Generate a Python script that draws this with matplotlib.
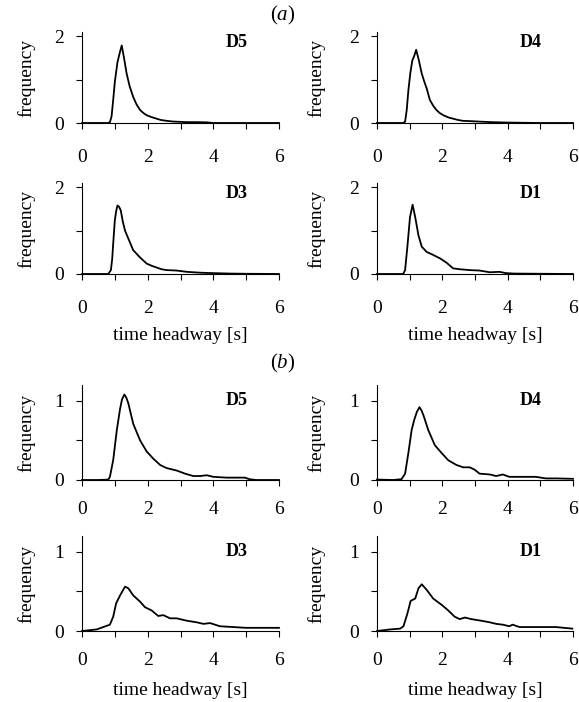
import matplotlib
matplotlib.use("Agg")
import matplotlib.pyplot as plt

plt.rcParams['font.family'] = ['Liberation Serif', 'DejaVu Serif']
plt.rcParams['mathtext.fontset'] = 'custom'
plt.rcParams['mathtext.it'] = 'Liberation Serif:italic'
plt.rcParams['mathtext.rm'] = 'Liberation Serif'

# ---- data ----
a_D5_x = [0, 0.5, 0.8, 0.85, 0.9, 0.95, 1.0, 1.08, 1.15, 1.21, 1.28, 1.36, 1.45, 1.56, 1.66, 1.77, 1.87, 1.97, 2.1, 2.27, 2.4, 2.58, 2.75, 2.88, 3.2, 3.5, 3.8, 4.0, 5.0, 6.0]
a_D5_y = [0, 0, 0.0, 0.02, 0.15, 0.53, 0.95, 1.40, 1.62, 1.79, 1.50, 1.14, 0.85, 0.60, 0.43, 0.30, 0.23, 0.18, 0.14, 0.10, 0.07, 0.05, 0.035, 0.03, 0.02, 0.02, 0.015, 0.0, 0.0, 0.0]

a_D4_x = [0, 0.5, 0.8, 0.86, 0.91, 0.96, 1.02, 1.08, 1.14, 1.2, 1.28, 1.37, 1.45, 1.52, 1.62, 1.72, 1.82, 1.92, 2.03, 2.18, 2.33, 2.48, 2.63, 2.8, 2.94, 3.2, 3.5, 4.0, 5.0, 6.0]
a_D4_y = [0, 0, 0.0, 0.03, 0.3, 0.75, 1.15, 1.44, 1.55, 1.69, 1.45, 1.14, 0.95, 0.80, 0.53, 0.40, 0.30, 0.23, 0.18, 0.13, 0.10, 0.07, 0.05, 0.045, 0.04, 0.03, 0.02, 0.01, 0.0, 0.0]

a_D3_x = [0, 0.5, 0.8, 0.88, 0.92, 0.95, 1.0, 1.04, 1.08, 1.13, 1.18, 1.24, 1.31, 1.41, 1.56, 1.77, 1.97, 2.12, 2.27, 2.42, 2.58, 2.73, 2.88, 3.19, 3.6, 4.0, 4.5, 5.0, 6.0]
a_D3_y = [0, 0, 0.0, 0.09, 0.35, 0.7, 1.24, 1.45, 1.58, 1.55, 1.47, 1.22, 1.0, 0.82, 0.55, 0.38, 0.24, 0.19, 0.15, 0.11, 0.09, 0.085, 0.08, 0.05, 0.03, 0.02, 0.01, 0.005, 0.0]

a_D1_x = [0, 0.5, 0.8, 0.86, 0.93, 1.01, 1.09, 1.17, 1.27, 1.37, 1.52, 1.72, 1.93, 2.13, 2.33, 2.53, 2.84, 3.14, 3.45, 3.75, 3.95, 4.2, 5.0, 6.0]
a_D1_y = [0, 0, 0.0, 0.09, 0.63, 1.31, 1.60, 1.31, 0.89, 0.63, 0.51, 0.44, 0.36, 0.26, 0.13, 0.11, 0.09, 0.08, 0.04, 0.05, 0.02, 0.01, 0.005, 0.0]

b_D5_x = [0, 0.5, 0.8, 0.85, 0.95, 1.06, 1.16, 1.22, 1.29, 1.35, 1.41, 1.56, 1.77, 1.97, 2.17, 2.38, 2.58, 2.88, 3.14, 3.39, 3.6, 3.8, 4.0, 4.4, 4.96, 5.1, 5.3, 6.0]
b_D5_y = [0, 0, 0.005, 0.04, 0.25, 0.63, 0.90, 1.02, 1.08, 1.04, 0.97, 0.71, 0.50, 0.36, 0.27, 0.19, 0.15, 0.12, 0.08, 0.05, 0.05, 0.06, 0.04, 0.03, 0.03, 0.01, 0.0, 0.0]

b_D4_x = [0, 0.5, 0.75, 0.86, 0.96, 1.06, 1.14, 1.22, 1.30, 1.36, 1.42, 1.57, 1.77, 1.98, 2.18, 2.43, 2.64, 2.84, 2.99, 3.14, 3.45, 3.65, 3.85, 4.05, 4.5, 4.86, 5.17, 5.5, 6.0]
b_D4_y = [0.005, 0.0, 0.01, 0.08, 0.34, 0.63, 0.76, 0.86, 0.92, 0.88, 0.82, 0.63, 0.44, 0.34, 0.25, 0.19, 0.16, 0.16, 0.13, 0.08, 0.07, 0.05, 0.07, 0.04, 0.04, 0.04, 0.02, 0.02, 0.015]

b_D3_x = [0, 0.45, 0.65, 0.85, 0.95, 1.04, 1.16, 1.31, 1.41, 1.56, 1.77, 1.92, 2.12, 2.32, 2.48, 2.68, 2.88, 3.19, 3.49, 3.7, 3.9, 4.2, 4.6, 5.0, 5.6, 6.0]
b_D3_y = [0, 0.02, 0.05, 0.08, 0.18, 0.35, 0.45, 0.56, 0.54, 0.45, 0.37, 0.30, 0.26, 0.19, 0.20, 0.16, 0.16, 0.13, 0.11, 0.09, 0.10, 0.06, 0.05, 0.04, 0.04, 0.04]

b_D1_x = [0, 0.41, 0.71, 0.81, 0.93, 1.03, 1.17, 1.27, 1.37, 1.52, 1.72, 1.98, 2.18, 2.38, 2.53, 2.69, 2.89, 3.19, 3.45, 3.65, 3.85, 4.05, 4.15, 4.36, 4.97, 5.47, 5.98]
b_D1_y = [0, 0.02, 0.03, 0.06, 0.22, 0.38, 0.41, 0.54, 0.59, 0.52, 0.41, 0.33, 0.26, 0.18, 0.15, 0.17, 0.15, 0.13, 0.11, 0.09, 0.08, 0.06, 0.08, 0.05, 0.05, 0.05, 0.03]

x_ticks = [0, 1, 2, 3, 4, 5, 6]
x_ticklabels = ['0', '', '2', '', '4', '', '6']
a_yticks = [0, 1, 2]
a_yticklabels = ['0', '', '2']
b_yticks = [0, 0.5, 1]
b_yticklabels = ['0', '', '1']
xlabel = 'time headway [s]'
ylabel = 'frequency'

W, H = 579, 702
fig = plt.figure(figsize=(W / 100, H / 100), dpi=100)

col_left = [82, 377]
col_right = [279, 573]
ylabelpad = [13.5, 17]

panels = [
    # (col, y0 px, ytop px, x, y, name, yticks, yticklabels, ylim_top, label_y, show_xlabel, xpad, xlabelpad)
    (0, 123, 32, a_D5_x, a_D5_y, 'D5', a_yticks, a_yticklabels, 2.1, 1.85, False, 14.3, 7.2),
    (1, 123, 32, a_D4_x, a_D4_y, 'D4', a_yticks, a_yticklabels, 2.1, 1.85, False, 14.3, 7.2),
    (0, 274, 183, a_D3_x, a_D3_y, 'D3', a_yticks, a_yticklabels, 2.1, 1.85, True, 14.3, 7.2),
    (1, 274, 183, a_D1_x, a_D1_y, 'D1', a_yticks, a_yticklabels, 2.1, 1.85, True, 14.3, 7.2),
    (0, 480, 385, b_D5_x, b_D5_y, 'D5', b_yticks, b_yticklabels, 1.2, 1.0, False, 10.8, 9.5),
    (1, 480, 385, b_D4_x, b_D4_y, 'D4', b_yticks, b_yticklabels, 1.2, 1.0, False, 10.8, 9.5),
    (0, 631, 536, b_D3_x, b_D3_y, 'D3', b_yticks, b_yticklabels, 1.2, 1.0, True, 10.8, 9.5),
    (1, 631, 536, b_D1_x, b_D1_y, 'D1', b_yticks, b_yticklabels, 1.2, 1.0, True, 10.8, 9.5),
]

for col, y0, ytop, xs, ys, name, yt, ytl, ymax, ly, showx, xpad, xlp in panels:
    l = col_left[col] / W
    w = (col_right[col] - col_left[col]) / W
    b = 1 - y0 / H
    h = (y0 - ytop) / H
    ax = fig.add_axes([l, b, w, h])
    ax.plot(xs, ys, color='black', lw=1.3, clip_on=False)
    ax.set_xlim(0, 6)
    ax.set_ylim(0, ymax)
    for s in ['top', 'right']:
        ax.spines[s].set_visible(False)
    for s in ['left', 'bottom']:
        ax.spines[s].set_linewidth(0.8)
    ax.set_xticks(x_ticks)
    ax.set_xticklabels(x_ticklabels)
    ax.set_yticks(yt)
    ax.set_yticklabels(ytl)
    ax.tick_params(axis='both', labelsize=14, length=4.5, width=0.8, direction='out')
    ax.tick_params(axis='x', pad=xpad)
    ax.tick_params(axis='y', pad=8.7)
    ax.set_ylabel(ylabel, fontsize=14, labelpad=ylabelpad[col])
    if showx:
        ax.set_xlabel(xlabel, fontsize=14, labelpad=xlp)
    ax.text(4.7, ly, name, fontsize=13, fontweight='bold', ha='center', va='center')

fig.text(283 / W, 1 - 15 / H, r'($\mathit{a}$)', fontsize=15, ha='center', va='center')
fig.text(283 / W, 1 - 363 / H, r'($\mathit{b}$)', fontsize=15, ha='center', va='center')

fig.savefig('out.png', dpi=100, facecolor='white')
